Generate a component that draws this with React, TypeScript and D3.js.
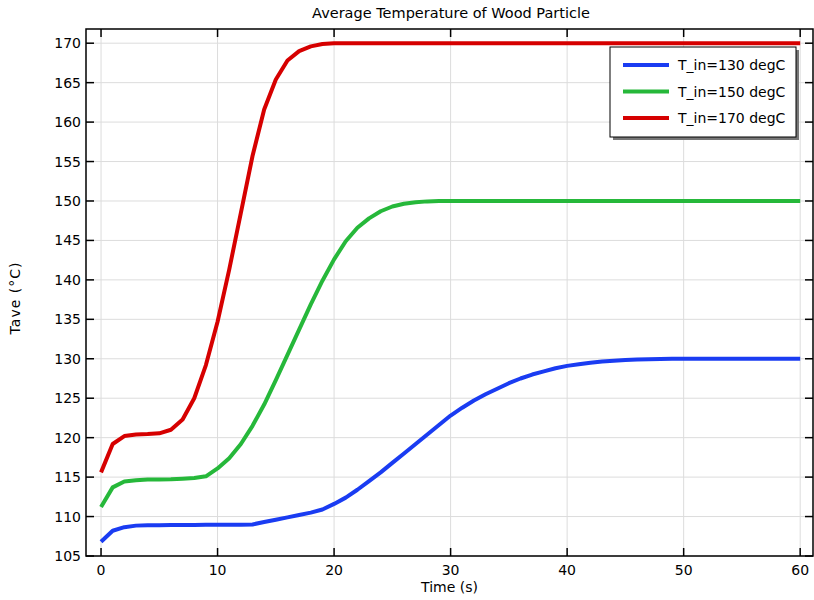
import * as d3 from "d3";

const time = d3.range(0, 61);

const t130 = [
  106.8, 108.2, 108.65, 108.85, 108.9, 108.9, 108.92, 108.93, 108.94, 108.95,
  108.95, 108.95, 108.95, 109.0, 109.3, 109.6, 109.9, 110.2, 110.5, 110.9,
  111.6, 112.4, 113.4, 114.5, 115.6, 116.8, 118.0, 119.2, 120.4, 121.6,
  122.8, 123.8, 124.7, 125.5, 126.2, 126.9, 127.5, 128.0, 128.4, 128.8,
  129.1, 129.3, 129.5, 129.65, 129.75, 129.85, 129.9, 129.95, 129.98, 130.0,
  130, 130, 130, 130, 130, 130, 130, 130, 130, 130, 130,
];

const t150 = [
  111.2, 113.7, 114.45, 114.6, 114.7, 114.7, 114.72, 114.8, 114.9, 115.1,
  116.1, 117.4, 119.2, 121.5, 124.2, 127.3, 130.5, 133.7, 136.9, 139.9,
  142.6, 144.9, 146.6, 147.8, 148.7, 149.3, 149.65, 149.85, 149.95, 150,
  150, 150, 150, 150, 150, 150, 150, 150, 150, 150,
  150, 150, 150, 150, 150, 150, 150, 150, 150, 150,
  150, 150, 150, 150, 150, 150, 150, 150, 150, 150, 150,
];

const t170 = [
  115.6, 119.2, 120.2, 120.4, 120.45, 120.55, 121.0, 122.3, 125.0, 129.2,
  134.7, 141.3, 148.5, 155.7, 161.6, 165.4, 167.8, 169.0, 169.6, 169.9,
  170, 170, 170, 170, 170, 170, 170, 170, 170, 170,
  170, 170, 170, 170, 170, 170, 170, 170, 170, 170,
  170, 170, 170, 170, 170, 170, 170, 170, 170, 170,
  170, 170, 170, 170, 170, 170, 170, 170, 170, 170, 170,
];

const seriesNames = ["T_in=130 degC", "T_in=150 degC", "T_in=170 degC"];
const seriesColors = ["#1a3cf2", "#26b83a", "#d60000"];
const xTicks = [0, 10, 20, 30, 40, 50, 60];
const yTicks = d3.range(105, 171, 5);

const width = 814;
const height = 600;
const margin = { top: 29, right: 1, bottom: 44, left: 86 };
const font = "DejaVu Sans, sans-serif";

export default function App() {
  const x = d3
    .scaleLinear()
    .domain([-1.29, 61.1])
    .range([margin.left, width - margin.right]);
  const y = d3
    .scaleLinear()
    .domain([105, 171.8])
    .range([height - margin.bottom, margin.top]);

  const series = [t130, t150, t170];
  const line = d3
    .line<number>()
    .x((d, i) => x(time[i]))
    .y((d) => y(d));

  const left = margin.left;
  const right = width - margin.right;
  const top = margin.top;
  const bottom = height - margin.bottom;
  const tickLen = 8;

  return (
    <svg
      width={width}
      height={height}
      style={{ position: "absolute", left: 0, top: 0, background: "#fff" }}
    >
      <defs>
        <clipPath id="plot">
          <rect x={left} y={top} width={right - left} height={bottom - top} />
        </clipPath>
      </defs>
      <rect x={0} y={0} width={width} height={height} fill="#fff" />
      {/* grid */}
      <g stroke="#dcdcdc" strokeWidth={1}>
        {xTicks.map((t) => (
          <line key={t} x1={x(t)} x2={x(t)} y1={top} y2={bottom} />
        ))}
        {yTicks.map((t) => (
          <line key={t} x1={left} x2={right} y1={y(t)} y2={y(t)} />
        ))}
      </g>
      {/* data */}
      <g clipPath="url(#plot)">
        {series.map((s, i) => (
          <path
            key={i}
            d={line(s) ?? ""}
            fill="none"
            stroke={seriesColors[i]}
            strokeWidth={4}
            strokeLinejoin="round"
          />
        ))}
      </g>
      {/* frame and ticks */}
      <rect
        x={left}
        y={top}
        width={right - left}
        height={bottom - top}
        fill="none"
        stroke="#000"
        strokeWidth={1.5}
      />
      <g stroke="#000" strokeWidth={1.5}>
        {xTicks.map((t) => (
          <g key={t}>
            <line x1={x(t)} x2={x(t)} y1={bottom} y2={bottom - tickLen} />
            <line x1={x(t)} x2={x(t)} y1={top} y2={top + tickLen} />
          </g>
        ))}
        {yTicks.map((t) => (
          <g key={t}>
            <line x1={left} x2={left + tickLen} y1={y(t)} y2={y(t)} />
            <line x1={right} x2={right - tickLen} y1={y(t)} y2={y(t)} />
          </g>
        ))}
      </g>
      <g fontFamily={font} fontSize={14} fill="#000">
        {xTicks.map((t) => (
          <text key={t} x={x(t)} y={bottom + 19} textAnchor="middle">
            {t}
          </text>
        ))}
        {yTicks.map((t) => (
          <text
            key={t}
            x={left - 5}
            y={y(t)}
            textAnchor="end"
            dominantBaseline="central"
          >
            {t}
          </text>
        ))}
        <text x={(left + right) / 2} y={height - 8} textAnchor="middle">
          Time (s)
        </text>
        <text
          transform={`translate(20, 298) rotate(-90)`}
          textAnchor="middle"
          letterSpacing={1}
        >
          Tave (°C)
        </text>
        <text x={451} y={18} textAnchor="middle" fontSize={14.5}>
          Average Temperature of Wood Particle
        </text>
      </g>
      {/* legend */}
      <g>
        <rect x={613} y={50} width={186} height={90} fill="#777" />
        <rect x={610} y={47} width={186} height={90} fill="#fff" stroke="#000" strokeWidth={1} />
        {seriesNames.map((name, i) => (
          <g key={name} transform={`translate(623, ${65 + i * 26.5})`}>
            <line x1={0} x2={46} y1={0} y2={0} stroke={seriesColors[i]} strokeWidth={4} />
            <text
              x={55}
              y={0}
              dominantBaseline="central"
              fontFamily={font}
              fontSize={14}
              fill="#000"
            >
              {name}
            </text>
          </g>
        ))}
      </g>
    </svg>
  );
}
